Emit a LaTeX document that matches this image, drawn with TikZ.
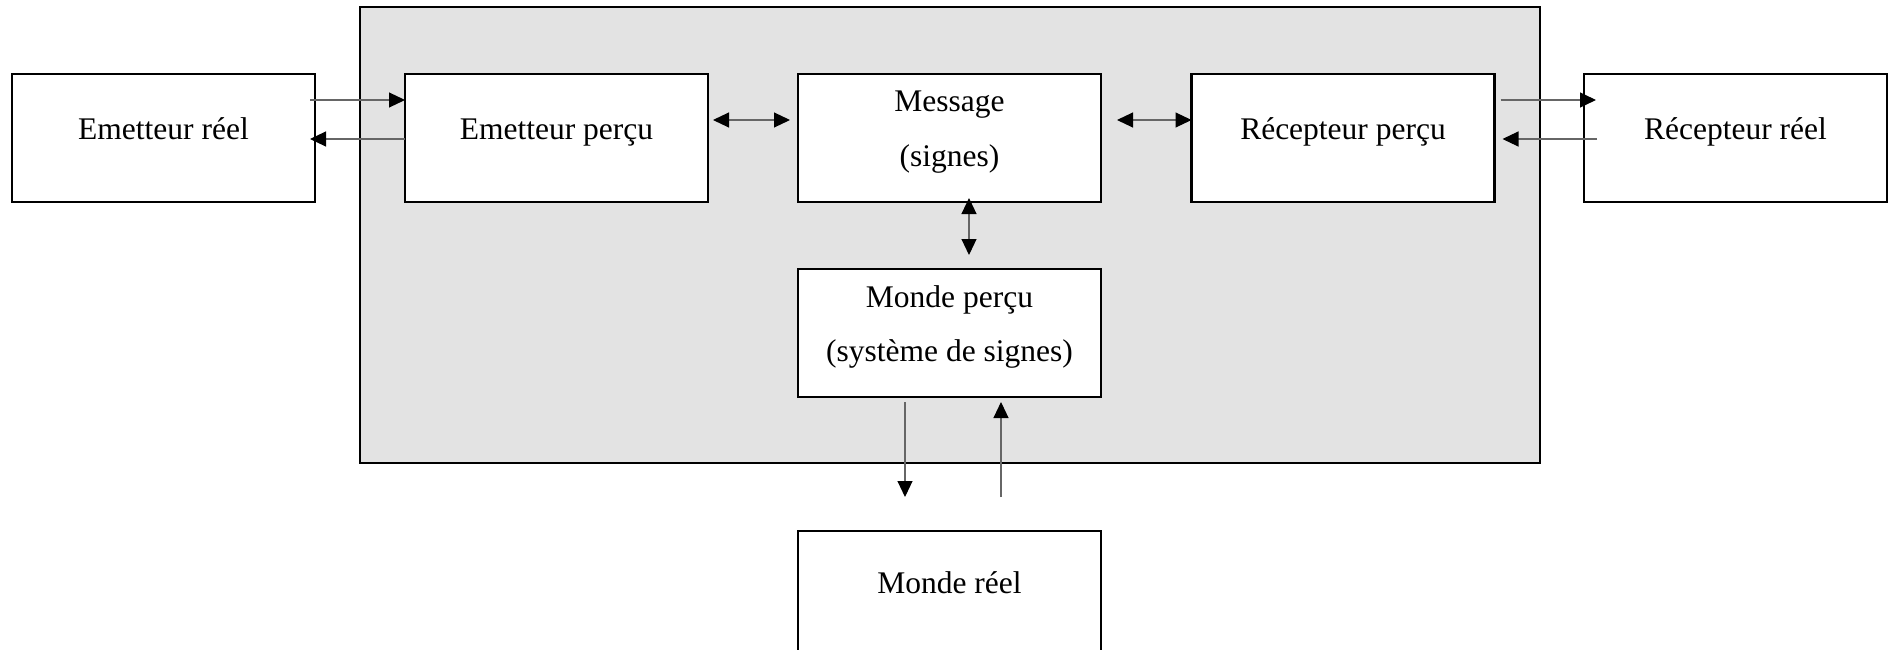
\documentclass[tikz,border=0pt]{standalone}
\usepackage{fontspec}
\setmainfont{Liberation Serif}
\usetikzlibrary{arrows.meta,calc}
\begin{document}
\begin{tikzpicture}[x=1pt,y=-1pt,
  box/.style={draw=black, line width=2.6pt, fill=white, inner sep=0pt, outer sep=0pt,
    minimum width=303pt, minimum height=128pt},
  lbl/.style={anchor=base, inner sep=0pt, font=\fontsize{31.5}{38}\selectfont},
  arr/.style={draw=black!60, line width=1.1pt, -{Triangle[length=16pt,width=15pt,color=black]}},
  darr/.style={draw=black!60, line width=1.1pt, {Triangle[length=16pt,width=15pt,color=black]}-{Triangle[length=16pt,width=15pt,color=black]}}
]
\useasboundingbox (0,0) rectangle (1890,650);
\clip (0,0) rectangle (1890,650);
\fill[white] (0,0) rectangle (1890,650);
% grey frame
\draw[line width=2.6pt, fill=black!11] (360,7) rectangle (1540,463);
% boxes
\node[box] (er) at (163.5,138) {};
\node[box] (ep) at (556.5,138) {};
\node[box] (m)  at (949.5,138) {};
\node[box] (rp) at (1343,138) {};
\node[box] (rr) at (1735.5,138) {};
\node[box] (mp) at (949.5,333) {};
\node[box, minimum height=149pt] (mr) at (949.5,605.5) {};
% texts
\node[lbl] (ert) at (163.5,140) {Emetteur réel};
\node[lbl] (ept) at (556.5,140) {Emetteur perçu};
\node[lbl] (mt1) at (949.5,112) {Message};
\node[lbl] (mt2) at (949.5,166) {(signes)};
\node[lbl] (rpt) at (1343,140) {Récepteur perçu};
\node[lbl] (rrt) at (1735.5,140) {Récepteur réel};
\node[lbl] (mpt1) at (949.5,307) {Monde perçu};
\node[lbl] (mpt2) at (949.5,361) {(système de signes)};
\node[lbl] (mrt) at (949.5,593) {Monde réel};
% connectors
\draw[arr] ([xshift=-5pt,yshift=38pt]er.east) -- ([yshift=38pt]ep.west);
\draw[arr] ([yshift=-1pt]ep.west) -- ([xshift=-5pt,yshift=-1pt]er.east);
\draw[darr] ([xshift=5pt,yshift=18pt]ep.east) -- ([xshift=-8pt,yshift=18pt]m.west);
\draw[darr] ([xshift=16pt,yshift=18pt]m.east) -- ([yshift=18pt]rp.west);
\draw[arr] ([xshift=6pt,yshift=38pt]rp.east) -- ([xshift=12pt,yshift=38pt]rr.west);
\draw[arr] ([xshift=13pt,yshift=-1pt]rr.west) -- ([xshift=8pt,yshift=-1pt]rp.east);
\draw[darr] ([xshift=19.5pt,yshift=4pt]m.south) -- ([xshift=19.5pt,yshift=14pt]mp.north);
\draw[arr] ([xshift=-44.5pt,yshift=-5pt]mp.south) -- ([xshift=-44.5pt,yshift=34pt]mr.north);
\draw[arr] ([xshift=51.5pt,yshift=34pt]mr.north) -- ([xshift=51.5pt,yshift=-5pt]mp.south);
\end{tikzpicture}
\end{document}
